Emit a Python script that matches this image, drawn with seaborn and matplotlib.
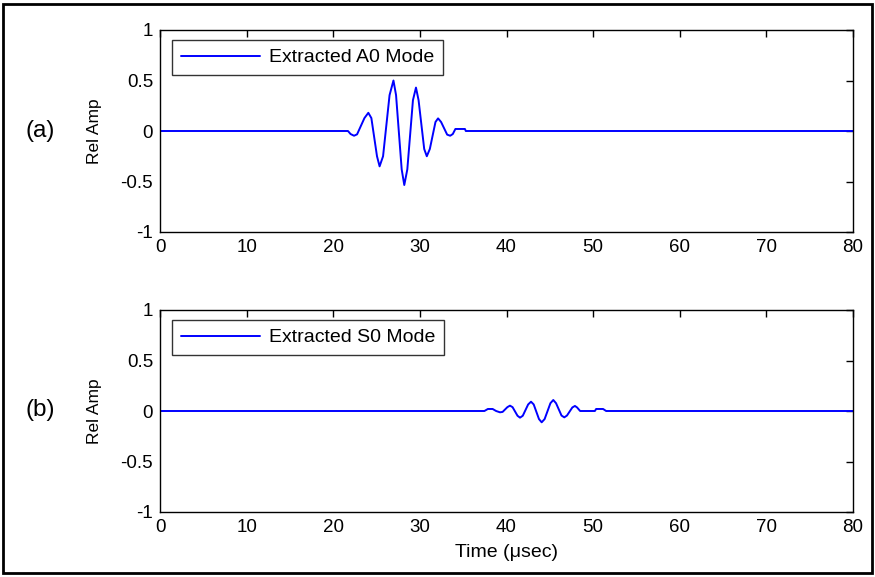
import matplotlib
matplotlib.use("Agg")
import matplotlib.pyplot as plt
import pandas as pd
import seaborn as sns
from matplotlib.patches import Rectangle
from matplotlib.ticker import FixedLocator, FixedFormatter

# ---- data ----
a0_time = [0.0, 21.7, 22.0, 22.4, 22.75, 23.6, 24.05, 24.4, 25.05, 25.35,
           25.75, 26.5, 26.95, 27.25, 27.9, 28.2, 28.55, 29.2, 29.55, 29.85,
           30.5, 30.8, 31.15, 31.8, 32.1, 32.45, 33.15, 33.5, 33.8, 34.1,
           34.6, 35.2, 35.3, 80.0]
a0_amp = [0.0, 0.0, -0.03, -0.047, -0.033, 0.128, 0.18, 0.128, -0.25, -0.35,
          -0.25, 0.355, 0.50, 0.355, -0.38, -0.535, -0.38, 0.305, 0.43, 0.305,
          -0.178, -0.25, -0.178, 0.089, 0.125, 0.089, -0.036, -0.047, -0.03, 0.02,
          0.02, 0.02, 0.0, 0.0]

s0_time = [0.0, 37.45, 37.85, 38.4, 38.8, 39.25, 39.55, 40.1, 40.4, 40.7,
           41.27, 41.56, 41.88, 42.5, 42.83, 43.14, 43.75, 44.06, 44.4, 45.07,
           45.4, 45.72, 46.35, 46.67, 46.98, 47.6, 47.9, 48.15, 48.5, 50.2,
           50.35, 51.15, 51.5, 80.0]
s0_amp = [0.0, 0.0, 0.02, 0.02, 0.0, -0.013, -0.009, 0.038, 0.053, 0.038,
          -0.047, -0.066, -0.047, 0.065, 0.092, 0.065, -0.08, -0.112, -0.08, 0.077,
          0.109, 0.077, -0.045, -0.063, -0.045, 0.035, 0.05, 0.035, 0.0, 0.0,
          0.02, 0.02, 0.0, 0.0]

x_ticks = [0, 10, 20, 30, 40, 50, 60, 70, 80]
x_tick_labels = ["0", "10", "20", "30", "40", "50", "60", "70", "80"]
y_ticks = [-1, -0.5, 0, 0.5, 1]
y_tick_labels = ["-1", "-0.5", "0", "0.5", "1"]
legend_labels = ["Extracted A0 Mode", "Extracted S0 Mode"]
panel_labels = ["(a)", "(b)"]
y_label = "Rel Amp"
x_label = "Time (\u03bcsec)"

sns.set_theme(style="white")
plt.rcParams['font.family'] = ['Liberation Sans', 'DejaVu Sans']

W, H = 875, 577
fig = plt.figure(figsize=(W / 100, H / 100), dpi=100)
fig.patch.set_facecolor("white")

ax1 = fig.add_axes([160 / W, 1 - 232 / H, 693 / W, 202 / H])
ax2 = fig.add_axes([160 / W, 1 - 512 / H, 693 / W, 202 / H])

series = [(ax1, a0_time, a0_amp, legend_labels[0]),
          (ax2, s0_time, s0_amp, legend_labels[1])]

for ax, t, a, lab in series:
    df = pd.DataFrame({"time": t, "amp": a})
    sns.lineplot(data=df, x="time", y="amp", ax=ax, color="#0000FF",
                 linewidth=1.4, estimator=None, sort=False, label=lab)
    ax.set_xlim(0, 80)
    ax.set_ylim(-1, 1)
    ax.xaxis.set_major_locator(FixedLocator(x_ticks))
    ax.xaxis.set_major_formatter(FixedFormatter(x_tick_labels))
    ax.yaxis.set_major_locator(FixedLocator(y_ticks))
    ax.yaxis.set_major_formatter(FixedFormatter(y_tick_labels))
    ax.tick_params(direction="in", top=True, right=True, length=5, width=1,
                   color="black", labelsize=13.5, pad=5, labelcolor="black")
    for sp in ax.spines.values():
        sp.set_visible(True)
        sp.set_color("black")
        sp.set_linewidth(1.0)
    ax.set_facecolor("white")
    ax.set_xlabel("")
    ax.set_ylabel(y_label, fontsize=12.5, color="black")
    ax.yaxis.set_label_coords(-0.083, 0.5)
    leg = ax.legend(loc="upper left", bbox_to_anchor=(0.0173, 0.95),
                    borderaxespad=0, fontsize=14, frameon=True, fancybox=False,
                    handlelength=4.1, handletextpad=0.45, borderpad=0.45)
    leg.get_frame().set_edgecolor("black")
    leg.get_frame().set_linewidth(1.0)
    for txt in leg.get_texts():
        txt.set_color("black")

ax2.set_xlabel(x_label, fontsize=14, color="black")
ax2.xaxis.set_label_coords(0.5, -0.16)

fig.text(40 / W, 1 - 131 / H, panel_labels[0], fontsize=17.5,
         ha="center", va="center", color="black")
fig.text(40 / W, 1 - 410 / H, panel_labels[1], fontsize=17.5,
         ha="center", va="center", color="black")

fig.patches.append(Rectangle((3 / W, 4 / H), (W - 6) / W, (H - 8) / H,
                             transform=fig.transFigure, fill=False,
                             edgecolor="black", linewidth=2))

fig.savefig("out.png", dpi=100)
